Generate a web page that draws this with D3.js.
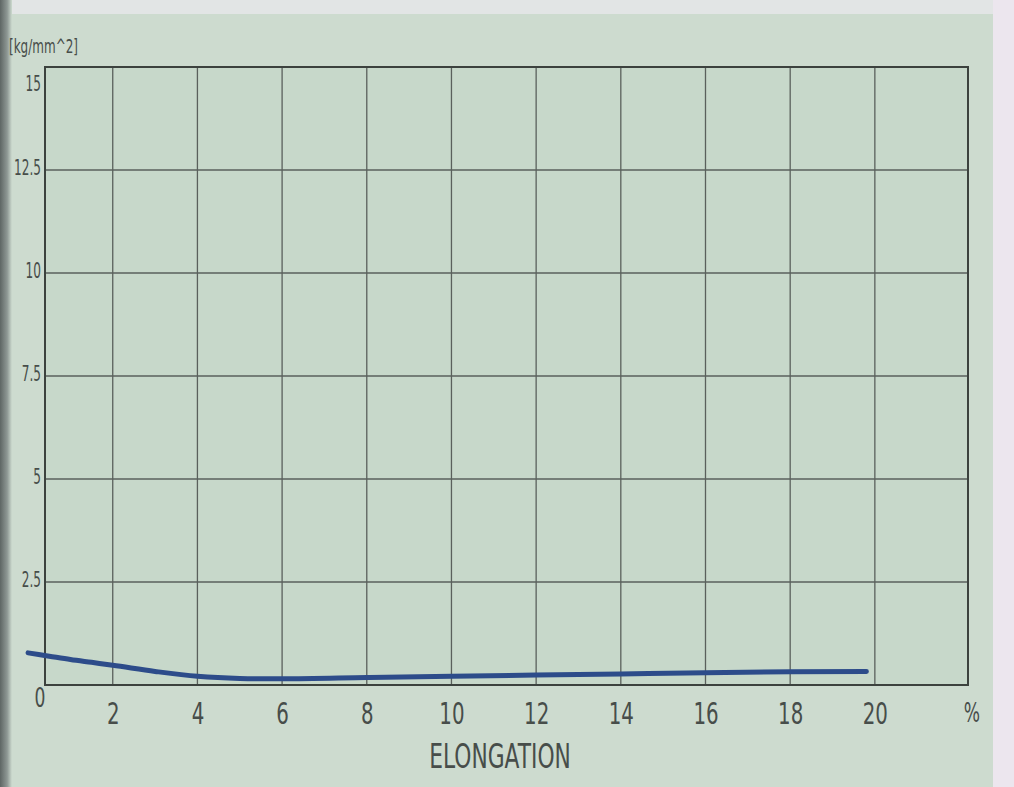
<!DOCTYPE html>
<html>
<head>
<meta charset="utf-8">
<script src="https://cdn.jsdelivr.net/npm/d3@7"></script>
<style>
  html, body { margin: 0; padding: 0; background: #cddbcf; }
  svg { display: block; }
  text { font-family: "DejaVu Sans", sans-serif; fill: #474d4a; }
</style>
</head>
<body>
<svg id="chart" width="1014" height="787"></svg>
<script>
// Stress–elongation curve
const elongation = [0, 0.5, 1, 1.5, 2, 3, 4, 5, 6, 8, 10, 12, 14, 16, 18, 19.8];
const stress     = [0.78, 0.70, 0.62, 0.55, 0.48, 0.33, 0.21, 0.16, 0.15, 0.18, 0.21, 0.24, 0.27, 0.30, 0.32, 0.33];

const xTicks = [2, 4, 6, 8, 10, 12, 14, 16, 18, 20];
const xTickLabels = ["2", "4", "6", "8", "10", "12", "14", "16", "18", "20"];
const xOriginLabel = "0";
const yTicks = [2.5, 5, 7.5, 10, 12.5, 15];
const yTickLabels = ["2.5", "5", "7.5", "10", "12.5", "15"];
const unitLabel = "[kg/mm^2]";
const xUnit = "%";
const xTitle = "ELONGATION";

const W = 1014, H = 787;
const m = { left: 45, right: 46, top: 67, bottom: 102 };
const svg = d3.select("#chart");

// narrow lettering: squeeze glyphs horizontally about each text's anchor
const NARROW = 0.66;

// page background with darker binding edge and lighter margins
const defs = svg.append("defs");
const g1 = defs.append("linearGradient").attr("id", "binding").attr("x1", 0).attr("x2", 1);
g1.append("stop").attr("offset", "0%").attr("stop-color", "#5e6664");
g1.append("stop").attr("offset", "60%").attr("stop-color", "#8e9894");
g1.append("stop").attr("offset", "100%").attr("stop-color", "#cddbcf", 0);
svg.append("rect").attr("width", W).attr("height", H).attr("fill", "#cddbcf");
svg.append("rect").attr("x", 0).attr("y", 0).attr("width", W).attr("height", 14).attr("fill", "#e2e5e5");
svg.append("rect").attr("x", 993).attr("y", 0).attr("width", 21).attr("height", H).attr("fill", "#ece6ee");

// the plotted range starts a little past zero at the frame edge
const x = d3.scaleLinear().domain([0.4, 22.2]).range([m.left, W - m.right]);
const y = d3.scaleLinear().domain([0, 15]).range([H - m.bottom, m.top]);
const [x0, x1] = x.domain();

// binding shadow along the left edge
svg.append("rect").attr("x", 0).attr("y", 0).attr("width", 12).attr("height", H).attr("fill", "url(#binding)");

// plot area
svg.append("rect")
  .attr("x", x(x0)).attr("y", y(15))
  .attr("width", x(x1) - x(x0)).attr("height", y(0) - y(15))
  .attr("fill", "#c7d8ca");

// grid
const grid = svg.append("g").attr("stroke", "#5a605c").attr("stroke-width", 1.3);
grid.selectAll("line.v").data(xTicks).join("line")
  .attr("x1", d => x(d)).attr("x2", d => x(d))
  .attr("y1", y(15)).attr("y2", y(0));
grid.selectAll("line.h").data(yTicks.filter(d => d < 15)).join("line")
  .attr("x1", x(x0)).attr("x2", x(x1))
  .attr("y1", d => y(d)).attr("y2", d => y(d));

// frame
svg.append("rect")
  .attr("x", x(x0)).attr("y", y(15))
  .attr("width", x(x1) - x(x0)).attr("height", y(0) - y(15))
  .attr("fill", "none").attr("stroke", "#3c423e").attr("stroke-width", 2);

// narrow text helper
function narrowText(px, py, str, size, anchor, fill) {
  return svg.append("g").attr("transform", `translate(${px},${py}) scale(${NARROW},1)`)
    .append("text").attr("text-anchor", anchor || "middle")
    .attr("font-size", size).attr("fill", fill || "#474d4a").text(str);
}

// x axis labels
const xAxis = d3.axisBottom(x).tickValues(xTicks)
  .tickFormat((d, i) => xTickLabels[i]).tickSize(0).tickPadding(0);
const gx = svg.append("g").attr("transform", `translate(0,${y(0)})`).call(xAxis);
gx.select(".domain").remove();
gx.selectAll("text")
  .attr("dy", null).attr("y", 39)
  .attr("font-size", 30).attr("fill", "#474d4a")
  .attr("transform", `scale(${NARROW},1)`)
  .style("font-family", '"DejaVu Sans", sans-serif');
narrowText(x(x0) - 5, y(0) + 22, xOriginLabel, 26);
narrowText(x(x1) + 4, y(0) + 37, xUnit, 26);
narrowText(500, y(0) + 83, xTitle, 33, "middle");

// y axis labels
const yAxis = d3.axisLeft(y).tickValues(yTicks)
  .tickFormat((d, i) => yTickLabels[i]).tickSize(0).tickPadding(0);
const gy = svg.append("g").attr("transform", `translate(${x(x0) - 4},0)`).call(yAxis);
gy.select(".domain").remove();
gy.selectAll("text")
  .attr("x", 0).attr("dy", null)
  .attr("y", d => d === 15 ? 24 : 4)
  .attr("font-size", 22).attr("fill", "#5a605c")
  .attr("transform", `scale(0.55,1)`)
  .style("font-family", '"DejaVu Sans", sans-serif');
svg.append("g").attr("transform", `translate(78,53) scale(0.6,1)`)
  .append("text").attr("text-anchor", "end").attr("font-size", 20)
  .attr("fill", "#5a605c").text(unitLabel);

// curve
const pts = elongation.map((e, i) => [e, stress[i]]);
svg.append("path").datum(pts)
  .attr("fill", "none").attr("stroke", "#2d4c8a").attr("stroke-width", 5)
  .attr("stroke-linecap", "round")
  .attr("d", d3.line().x(d => x(d[0])).y(d => y(d[1])).curve(d3.curveMonotoneX));
</script>
</body>
</html>
